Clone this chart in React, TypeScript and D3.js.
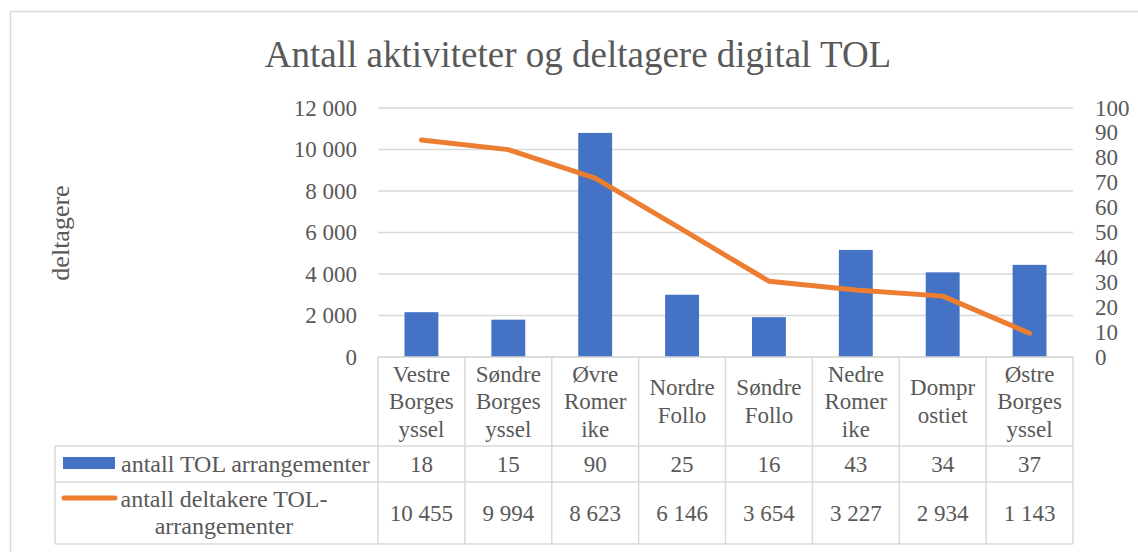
import React from "react";
import * as d3 from "d3";

const categories: string[][] = [
  ["Vestre", "Borges", "yssel"],
  ["Søndre", "Borges", "yssel"],
  ["Øvre", "Romer", "ike"],
  ["Nordre", "Follo"],
  ["Søndre", "Follo"],
  ["Nedre", "Romer", "ike"],
  ["Dompr", "ostiet"],
  ["Østre", "Borges", "yssel"],
];
const arrangementer: number[] = [18, 15, 90, 25, 16, 43, 34, 37];
const deltakere: number[] = [10455, 9994, 8623, 6146, 3654, 3227, 2934, 1143];
const leftTicks: number[] = [0, 2000, 4000, 6000, 8000, 10000, 12000];
const rightTicks: number[] = [0, 10, 20, 30, 40, 50, 60, 70, 80, 90, 100];
const title = "Antall aktiviteter og deltagere digital TOL";
const yTitle = "deltagere";
const seriesBarName = "antall TOL arrangementer";
const seriesLineName = ["antall deltakere TOL-", "arrangementer"];

const W = 1138;
const H = 552;
const plot = { left: 378, right: 1073, top: 108, bottom: 357 };
const tableRows = { header: 357, row1: 446, row2: 482, bottom: 544 };
const legendLeft = 55;
const TXT = "#595959";
const GRID = "#d9d9d9";
const FONT = "'Liberation Serif', 'Times New Roman', serif";

const fmt = (v: number) => {
  const s = d3.format(",")(v);
  return s.replace(/,/g, " ");
};

export default function App() {
  const idx = d3.range(categories.length);
  const x = d3.scaleBand<number>().domain(idx).range([plot.left, plot.right]).paddingInner(0).paddingOuter(0);
  const yL = d3.scaleLinear().domain([0, 12000]).range([plot.bottom, plot.top]);
  const yR = d3.scaleLinear().domain([0, 100]).range([plot.bottom, plot.top]);
  const bw = x.bandwidth();
  const barW = bw * 0.39;
  const cx = (i: number) => (x(i) as number) + bw / 2;

  const line = d3
    .line<number>()
    .x((_, i) => cx(i))
    .y((d) => yL(d));

  const colEdges = [...idx.map((i) => x(i) as number), plot.right];

  return (
    <svg width={W} height={H} style={{ position: "absolute", left: 0, top: 0 }} fontFamily={FONT}>
      <rect x={0} y={0} width={W} height={H} fill="#fff" />
      <rect x={10.5} y={11.5} width={1300} height={700} fill="none" stroke={GRID} strokeWidth={1.5} />
      <text x={578} y={67} textAnchor="middle" fontSize={37} fill={TXT}>
        {title}
      </text>

      {/* gridlines */}
      {leftTicks.map((t) => (
        <line key={t} x1={plot.left} x2={plot.right} y1={yL(t)} y2={yL(t)} stroke={GRID} strokeWidth={1.5} />
      ))}
      {leftTicks.map((t) => (
        <text key={"l" + t} x={357} y={yL(t)} dy="0.33em" textAnchor="end" fontSize={23} fill={TXT}>
          {fmt(t)}
        </text>
      ))}
      {rightTicks.map((t) => (
        <text key={"r" + t} x={1095} y={yR(t)} dy="0.33em" textAnchor="start" fontSize={23} fill={TXT}>
          {t}
        </text>
      ))}
      <text
        transform={`translate(69,233) rotate(-90)`}
        textAnchor="middle"
        fontSize={26}
        fill={TXT}
      >
        {yTitle}
      </text>

      {/* bars */}
      {arrangementer.map((v, i) => (
        <rect key={i} x={cx(i) - barW / 2} y={yR(v)} width={barW} height={yR(0) - yR(v)} fill="#4472C4" />
      ))}
      {/* line */}
      <path
        d={line(deltakere) || ""}
        fill="none"
        stroke="#ED7D31"
        strokeWidth={5}
        strokeLinecap="round"
        strokeLinejoin="round"
      />

      {/* table */}
      <g stroke={GRID} strokeWidth={1.5} fill="none">
        {colEdges.map((e, i) => (
          <line key={i} x1={e} x2={e} y1={tableRows.header} y2={tableRows.bottom} />
        ))}
        <line x1={legendLeft} x2={legendLeft} y1={tableRows.row1} y2={tableRows.bottom} />
        <line x1={plot.left} x2={plot.right} y1={tableRows.header} y2={tableRows.header} />
        <line x1={legendLeft} x2={plot.right} y1={tableRows.row1} y2={tableRows.row1} />
        <line x1={legendLeft} x2={plot.right} y1={tableRows.row2} y2={tableRows.row2} />
        <line x1={legendLeft} x2={plot.right} y1={tableRows.bottom} y2={tableRows.bottom} />
      </g>
      {categories.map((lines, i) => {
        const mid = (tableRows.header + tableRows.row1) / 2;
        const lh = 27.5;
        const start = mid - ((lines.length - 1) * lh) / 2;
        return (
          <text key={i} textAnchor="middle" fontSize={23} fill={TXT}>
            {lines.map((l, j) => (
              <tspan key={j} x={cx(i)} y={start + j * lh} dy="0.33em">
                {l}
              </tspan>
            ))}
          </text>
        );
      })}
      {arrangementer.map((v, i) => (
        <text key={i} x={cx(i)} y={(tableRows.row1 + tableRows.row2) / 2} dy="0.33em" textAnchor="middle" fontSize={23} fill={TXT}>
          {fmt(v)}
        </text>
      ))}
      {deltakere.map((v, i) => (
        <text key={i} x={cx(i)} y={(tableRows.row2 + tableRows.bottom) / 2} dy="0.33em" textAnchor="middle" fontSize={23} fill={TXT}>
          {fmt(v)}
        </text>
      ))}

      {/* legend keys */}
      <rect x={63} y={457} width={52} height={12} fill="#4472C4" />
      <text x={121} y={464} dy="0.33em" fontSize={24} fill={TXT}>
        {seriesBarName}
      </text>
      <line x1={64} x2={115} y1={498} y2={498} stroke="#ED7D31" strokeWidth={5} strokeLinecap="round" />
      <text textAnchor="middle" fontSize={24} fill={TXT}>
        <tspan x={224} y={499} dy="0.33em">
          {seriesLineName[0]}
        </tspan>
        <tspan x={224} y={526} dy="0.33em">
          {seriesLineName[1]}
        </tspan>
      </text>
    </svg>
  );
}
